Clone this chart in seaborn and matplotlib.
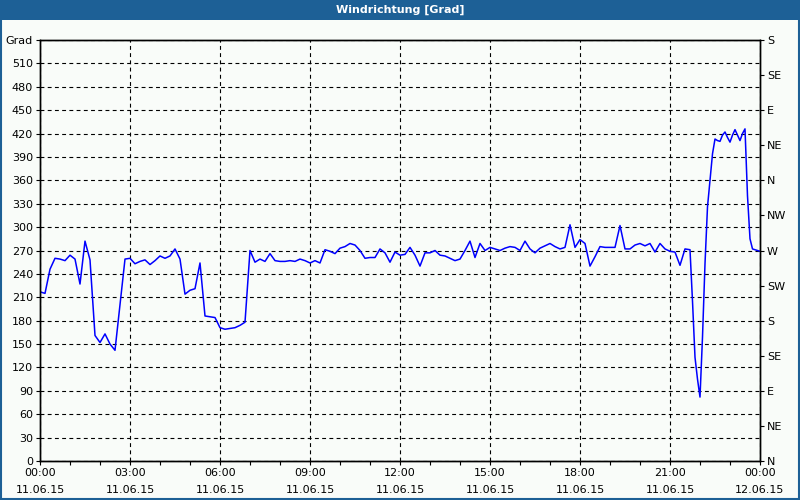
import matplotlib
matplotlib.use("Agg")
import matplotlib.pyplot as plt
import seaborn as sns
import numpy as np
from matplotlib.patches import Rectangle

# Messzeiten (HH:MM, 11.06.15) und Windrichtung in Grad
zeiten = [
    "00:00", "00:10", "00:20", "00:30", "00:40", "00:50",
    "01:00", "01:10", "01:20", "01:30", "01:40", "01:50",
    "02:00", "02:10", "02:20", "02:30", "02:40", "02:50",
    "03:00", "03:10", "03:20", "03:30", "03:40", "03:50",
    "04:00", "04:10", "04:20", "04:30", "04:40", "04:50",
    "05:00", "05:10", "05:20", "05:30", "05:40", "05:50",
    "06:00", "06:10", "06:20", "06:30", "06:40", "06:50",
    "07:00", "07:10", "07:20", "07:30", "07:40", "07:50",
    "08:00", "08:10", "08:20", "08:30", "08:40", "08:50",
    "09:00", "09:10", "09:20", "09:30", "09:40", "09:50",
    "10:00", "10:10", "10:20", "10:30", "10:40", "10:50",
    "11:00", "11:10", "11:20", "11:30", "11:40", "11:50",
    "12:00", "12:10", "12:20", "12:30", "12:40", "12:50",
    "13:00", "13:10", "13:20", "13:30", "13:40", "13:50",
    "14:00", "14:10", "14:20", "14:30", "14:40", "14:50",
    "15:00", "15:10", "15:20", "15:30", "15:40", "15:50",
    "16:00", "16:10", "16:20", "16:30", "16:40", "16:50",
    "17:00", "17:10", "17:20", "17:30", "17:40", "17:50",
    "18:00", "18:10", "18:20", "18:30", "18:40", "18:50",
    "19:00", "19:10", "19:20", "19:30", "19:40", "19:50",
    "20:00", "20:10", "20:20", "20:30", "20:40", "20:50",
    "21:00", "21:10", "21:20", "21:30", "21:40", "21:45",
    "21:50", "21:55", "22:00", "22:05", "22:10", "22:15",
    "22:20", "22:25", "22:30", "22:35", "22:40", "22:45",
    "22:50", "22:55", "23:00", "23:05", "23:10", "23:15",
    "23:20", "23:25", "23:30", "23:35", "23:40", "23:45",
    "23:50", "23:55", "24:00",
]
grad = [
    217, 215, 246, 260, 259, 257,
    264, 259, 227, 282, 258, 161,
    152, 163, 150, 142, 200, 259,
    260, 253, 256, 258, 252, 257,
    263, 260, 263, 272, 259, 214,
    219, 221, 254, 186, 185, 184,
    171, 169, 170, 171, 174, 178,
    270, 255, 259, 256, 266, 257,
    256, 256, 257, 256, 259, 257,
    254, 257, 254, 271, 269, 266,
    273, 275, 279, 277, 270, 260,
    261, 261, 272, 267, 255, 268,
    264, 265, 274, 264, 250, 267,
    267, 270, 264, 263, 260, 257,
    259, 270, 282, 261, 279, 270,
    274, 272, 270, 273, 275, 274,
    270, 282, 272, 267, 273, 276,
    279, 275, 272, 274, 303, 274,
    284, 279, 250, 262, 275, 274,
    274, 274, 302, 272, 272, 277,
    279, 276, 279, 268, 279, 272,
    269, 268, 251, 272, 271, 205,
    133, 105, 82, 159, 253, 326,
    360, 394, 413, 411, 410, 418,
    422, 415, 409, 418, 425, 418,
    411, 420, 426, 340, 285, 272,
    271, 270, 269,
]

x_ticks = [0, 3, 6, 9, 12, 15, 18, 21, 24]
x_labels = ["00:00\n11.06.15", "03:00\n11.06.15", "06:00\n11.06.15",
            "09:00\n11.06.15", "12:00\n11.06.15", "15:00\n11.06.15",
            "18:00\n11.06.15", "21:00\n11.06.15", "00:00\n12.06.15"]
y_ticks = list(range(0, 541, 30))
y_labels = [str(v) for v in range(0, 511, 30)] + ["Grad"]
kompass_ticks = list(range(0, 541, 45))
kompass = ["N", "NE", "E", "SE", "S", "SW", "W", "NW", "N", "NE", "E", "SE", "S"]

stunden = [int(t[:2]) + int(t[3:]) / 60 for t in zeiten]

sns.set_style("ticks")
plt.rcParams["font.family"] = ["DejaVu Sans"]
plt.rcParams["font.size"] = 8

bg = "#f9fcf9"
blau = "#1d6096"

fig = plt.figure(figsize=(8, 5), dpi=100, facecolor=bg)
ax = fig.add_axes([0.05, 0.078, 0.90, 0.842], facecolor=bg)

sns.lineplot(x=stunden, y=grad, color="#0000ff", linewidth=1.1, ax=ax)

ax.set_xlim(0, 24)
ax.set_ylim(0, 540)
ax.set_xticks(x_ticks)
ax.set_xticklabels(x_labels, linespacing=1.9)
ax.set_xticks(range(0, 25), minor=True)
ax.set_yticks(y_ticks)
ax.set_yticklabels(y_labels)
ax.tick_params(axis="both", which="both", direction="out", length=3, width=0.8,
               colors="black", labelcolor="black", pad=2, labelsize=8)
ax.grid(True, which="major", color="black", linestyle=(0, (3.5, 3)), linewidth=0.8)
for s in ax.spines.values():
    s.set_color("black")
    s.set_linewidth(1.0)

ax2 = ax.twinx()
ax2.set_ylim(0, 540)
ax2.set_yticks(kompass_ticks)
ax2.set_yticklabels(kompass)
ax2.tick_params(axis="y", direction="out", length=3, width=0.8, pad=2, labelsize=8,
                colors="black", labelcolor="black")
for s in ax2.spines.values():
    s.set_color("black")
    s.set_linewidth(1.0)

# Titelleiste und Rahmen
fig.patches.append(Rectangle((0, 0.96), 1, 0.04, transform=fig.transFigure,
                             facecolor=blau, edgecolor="none", zorder=0))
fig.patches.append(Rectangle((0.0015, 0.002), 0.997, 0.996, transform=fig.transFigure,
                             facecolor="none", edgecolor=blau, linewidth=1.5, zorder=5))
fig.text(0.5, 0.98, "Windrichtung [Grad]", color="white", fontsize=8,
         fontweight="bold", ha="center", va="center")

fig.savefig("out.png", dpi=100, facecolor=bg)
